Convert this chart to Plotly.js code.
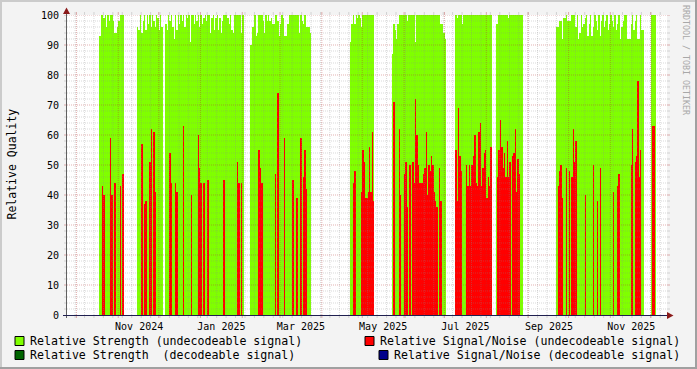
<!DOCTYPE html>
<html><head><meta charset="utf-8">
<script src="https://cdn.plot.ly/plotly-3.0.1.min.js"></script>
<style>html,body{margin:0;padding:0;background:#F3F3F3;overflow:hidden}#chart{width:697px;height:369px}</style>
</head><body><div id="chart"></div>
<script>
// ---- data (one value per day, day 0 = startDate) ----
const startDate = '2024-09-24';
const endDate = '2025-12-13';
// runs of days with data: first day index of each run
const runStart = [24, 52, 73, 136, 210, 241, 288, 318, 363, 433];
// Relative Strength (undecodeable signal) for each run
const strengthRuns = [
  [93,100,100,99,100,96,100,98,100,100,98,94,94,96,98,100,100,100],
  [96,95,100,94,98,100,95,100,97,100,96,100,98,96,100,99,95,100,96],
  [97,95,100,98,100,96,92,100,95,100, 97,100,98,100,96,100,99,100,91,100,
   100,97,100,98,100,96,100,97,99,100, 98,100,100,94,99,100,95,99,100,95,
   99,94,98,100,100,100,99,97,100,95, 94,100,100,100,100,100,94,100],
  [90,96,96,100,93,94,100,100,100,98, 94,100,98,100,98,99,97,97,100,100,
   98,93,97,100,99,93,93,97,97,100, 100,100,100,100,100,100,94,100,98,97,
   100,96,96,96,94],
  [91,97,100,97,100,99,100,99,96,100,100,100,100,100,100,100,100,100],
  [87,97,95,92,97,100,100,100,100,100, 100,98,100,100,100,100,100,91,100,100,
   100,100,100,100,100,100,100,100,100,100, 100,100,100,100,100,100,97,97,94,92],
  [100,99,100,100,100,97,100,100,100,100,100,100,100,100,100,100,100,100,100,100,100,100,100,100,100,100,100],
  [97,97,100,100,100,100,100,100,100,99,100,100,100,100,100,100,100,100,100,100],
  [96,96,98,98,92,99,99,100,98,98, 98,100,100,100,96,100,92,94,100,96,
   97,99,100,93,97,100,93,96,100,98, 95,100,93,98,100,96,98,100,95,97,
   100,98,96,100,95,97,100,92,96,98, 100,100,92,92,92,97,100,95,98,100,
   92,92,100,95,95],
  [100,100,100,100]
];
// Relative Signal/Noise (undecodeable signal): day index and value
const snrDay = [26,27,32,33,35,39,41, 55,57,58,61,62,64,65,
  76,77,80,81,86,92,97,98,99,101,104,116,126,127,129,
  142,143,144,154,156,161,167,170,173,175,176,177,
  212,213,218,219,220,221,222,223,224,225,226,227,
  242,246,247,250,251,252,254,256,257,258,259,260,261,262,263,264,265,266,267,268,269,270,271,272,273,274,276,277,
  288,289,290,291,292,296,297,298,299,300,301,302,303,304,305,306,307,308,309,310,311,312,313,314,
  319,320,321,322,323,324,325,326,327,328,330,331,332,333,334,335,
  364,365,366,367,370,372,374,375,376,377,384,390,393,395,405,408,409,418,419,421,422,423,424,425,
  434,435];
const snrVal = [43,40,59,40,44,43,47, 57,37,38,51,62,61,41,
  54,44,44,41,63,40,60,49,44,44,45,45,51,44,44,
  55,49,44,47,74,59,45,39,59,46,55,42,
  44,48,41,55,51,39,39,41,56,41,61,38,
  71,62,40,47,51,36,50,51,44,72,60,50,44,44,44,47,49,61,40,50,48,53,50,41,38,36,49,38,
  55,38,69,53,48,50,43,50,43,50,53,60,44,43,61,64,43,49,54,55,39,46,43,56,
  46,55,65,56,49,54,46,58,46,51,53,54,62,41,52,47,
  43,48,50,39,49,48,46,62,51,58,40,50,38,49,41,43,47,50,62,51,53,78,46,55,
  63,63];
// axis labels
const tickDates = ['2024-11-16 12:00','2025-01-16 12:00','2025-03-16 12:00','2025-05-16 12:00','2025-07-16 12:00','2025-09-16 12:00','2025-11-16 12:00'];
const tickLabels = ['Nov 2024','Jan 2025','Mar 2025','May 2025','Jul 2025','Sep 2025','Nov 2025'];
const yTicks = [0,10,20,30,40,50,60,70,80,90,100];
const monthLines = ['2024-10-01','2024-11-01','2024-12-01','2025-01-01','2025-02-01','2025-03-01','2025-04-01','2025-05-01','2025-06-01','2025-07-01','2025-08-01','2025-09-01','2025-10-01','2025-11-01','2025-12-01'];
const legendItems = [
  {label:'Relative Strength (undecodeable signal)', color:'#80FF00'},
  {label:'Relative Signal/Noise (undecodeable signal)', color:'#FF0000'},
  {label:'Relative Strength\u00A0\u00A0(decodeable signal)', color:'#006400'},
  {label:'Relative Signal/Noise (decodeable signal)', color:'#00008B'}
];

// ---- build ----
const DAY = 864e5;
const t0 = Date.parse(startDate + 'T00:00:00Z');
function dayStr(i){ return new Date(t0 + i*DAY).toISOString().slice(0,10); }

const gx = [], gy = [];
runStart.forEach((s, r) => strengthRuns[r].forEach((v, k) => { gx.push(dayStr(s + k)); gy.push(v); }));
const rx = snrDay.map(dayStr);

function barTrace(x, y, color){
  return {type:'bar', x:x, y:y, width:DAY, offset:0, hoverinfo:'skip',
    marker:{color:color, line:{width:0.02, color:color}}};
}
const traces = [barTrace(gx, gy, '#80FF00'), barTrace(rx, snrVal, '#FF0000')];

const W = 697, H = 369, L = 67, T = 15, PW = 600, PH = 300;
const X = p => (p - L) / PW;
const Y = p => (T + PH - p) / PH;
const FONT = '"DejaVu Sans Mono", monospace';
const minorC = 'rgba(140,140,140,0.32)';
const majorC = 'rgba(180,50,50,0.38)';
const dash = '1px,1px';

const shapes = [];
// horizontal grid
for (let v = 2; v <= 100; v += 2) {
  const major = v % 10 === 0;
  const c = major ? majorC : minorC;
  shapes.push({type:'line', xref:'paper', yref:'y', x0:0, x1:1, y0:v, y1:v, line:{color:c, width:1, dash:dash}});
  shapes.push({type:'line', xref:'paper', yref:'y', x0:X(64), x1:X(67), y0:v, y1:v, line:{color:c, width:1}});
  shapes.push({type:'line', xref:'paper', yref:'y', x0:X(667), x1:X(670), y0:v, y1:v, line:{color:c, width:1}});
}
// vertical minor grid: weekly (Mondays)
for (let t = Date.parse('2024-09-30T00:00:00Z'); t < Date.parse(endDate + 'T00:00:00Z'); t += 7*DAY) {
  const d = new Date(t).toISOString().slice(0,10);
  shapes.push({type:'line', xref:'x', yref:'paper', x0:d, x1:d, y0:0, y1:1, line:{color:minorC, width:1, dash:dash}});
  shapes.push({type:'line', xref:'x', yref:'paper', x0:d, x1:d, y0:Y(318), y1:Y(315), line:{color:minorC, width:1}});
  shapes.push({type:'line', xref:'x', yref:'paper', x0:d, x1:d, y0:Y(15), y1:Y(12), line:{color:minorC, width:1}});
}
monthLines.forEach(d => {
  shapes.push({type:'line', xref:'x', yref:'paper', x0:d, x1:d, y0:0, y1:1, line:{color:majorC, width:1, dash:dash}});
  shapes.push({type:'line', xref:'x', yref:'paper', x0:d, x1:d, y0:Y(318), y1:Y(315), line:{color:majorC, width:1}});
  shapes.push({type:'line', xref:'x', yref:'paper', x0:d, x1:d, y0:Y(15), y1:Y(12), line:{color:majorC, width:1}});
});
// axes + arrows
shapes.push({type:'line', xref:'paper', yref:'paper', x0:X(66.5), x1:X(66.5), y0:Y(318), y1:Y(12), line:{color:'#606060', width:1}});
shapes.push({type:'line', xref:'paper', yref:'paper', x0:X(63), x1:X(668), y0:Y(315.5), y1:Y(315.5), line:{color:'#202050', width:1}});
shapes.push({type:'path', xref:'paper', yref:'paper', fillcolor:'#8B1A1A', line:{width:0},
  path:`M ${X(63)} ${Y(14)} L ${X(70)} ${Y(14)} L ${X(66.5)} ${Y(7.5)} Z`});
shapes.push({type:'path', xref:'paper', yref:'paper', fillcolor:'#8B1A1A', line:{width:0},
  path:`M ${X(667)} ${Y(312)} L ${X(667)} ${Y(319)} L ${X(673.5)} ${Y(315.5)} Z`});
// frame (3D shade)
shapes.push({type:'rect', xref:'paper', yref:'paper', x0:X(0), x1:X(W), y0:Y(0), y1:Y(2), fillcolor:'#CBCBCB', line:{width:0}});
shapes.push({type:'rect', xref:'paper', yref:'paper', x0:X(0), x1:X(2), y0:Y(0), y1:Y(H), fillcolor:'#CBCBCB', line:{width:0}});
shapes.push({type:'rect', xref:'paper', yref:'paper', x0:X(0), x1:X(W), y0:Y(H-2), y1:Y(H), fillcolor:'#A0A0A0', line:{width:0}});
shapes.push({type:'rect', xref:'paper', yref:'paper', x0:X(W-2), x1:X(W), y0:Y(0), y1:Y(H), fillcolor:'#A0A0A0', line:{width:0}});

const annotations = [
  {text:'Relative Quality', xref:'paper', yref:'paper', x:X(11.5), y:Y(164), textangle:-90, showarrow:false,
   xanchor:'center', yanchor:'middle', font:{family:FONT, size:11.5, color:'#000'}},
  {text:'RRDTOOL / TOBI OETIKER', xref:'paper', yref:'paper', x:X(686), y:Y(60), textangle:90, showarrow:false,
   xanchor:'center', yanchor:'middle', font:{family:FONT, size:8.3, color:'#A8A8A8'}}
];
// legend
const legPos = [[15,341,28],[365,341,378],[15,355,28],[379,355,392]];
legendItems.forEach((it, k) => {
  const [sx, cy, tx] = legPos[k];
  shapes.push({type:'rect', xref:'paper', yref:'paper', x0:X(sx), x1:X(sx+9), y0:Y(cy-4.5), y1:Y(cy+4.5),
    fillcolor:it.color, line:{color:'#000', width:1}});
  annotations.push({text:it.label, xref:'paper', yref:'paper', x:X(tx), y:Y(cy), showarrow:false,
    xanchor:'left', yanchor:'middle', font:{family:FONT, size:11.6, color:'#000'}});
});

const layout = {
  width:W, height:H, margin:{l:L, r:W-L-PW, t:T, b:H-T-PH, pad:0},
  paper_bgcolor:'#F3F3F3', plot_bgcolor:'#FFFFFF',
  barmode:'overlay', bargap:0, bargroupgap:0, showlegend:false,
  xaxis:{type:'date', range:[startDate, endDate], tickvals:tickDates, ticktext:tickLabels,
    showgrid:false, zeroline:false, showline:false, ticks:'', ticklabelstandoff:4,
    tickfont:{family:FONT, size:10, color:'#000'}, fixedrange:true},
  yaxis:{range:[0,100], tickvals:yTicks, ticktext:yTicks.map(String), showgrid:false, zeroline:false,
    showline:false, ticks:'', ticklabelstandoff:7, tickfont:{family:FONT, size:10, color:'#000'}, fixedrange:true},
  shapes:shapes, annotations:annotations
};
Plotly.newPlot('chart', traces, layout, {displayModeBar:false, responsive:false});
</script></body></html>
